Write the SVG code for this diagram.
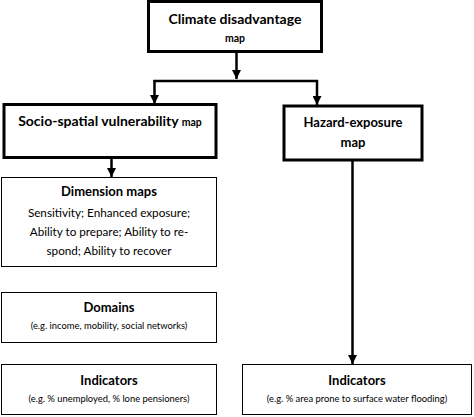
<svg xmlns="http://www.w3.org/2000/svg" width="474" height="417" viewBox="0 0 474 417">
<style>
.thick{fill:#fff;stroke:#000;stroke-width:3}
.thin{fill:#fff;stroke:#000;stroke-width:1}
text{font-family:Lato,"Liberation Sans",sans-serif;fill:#000;text-anchor:middle}
.h{font-weight:bold;font-size:14px}
.hs{font-weight:bold;font-size:10.5px}
.b{font-size:11.7px}
.s{font-size:9.4px}
.conn{fill:none;stroke:#000;stroke-width:2.5}
</style>
<defs>
<marker id="ah" markerUnits="userSpaceOnUse" markerWidth="9" markerHeight="9" viewBox="0 0 9 9" refX="9" refY="4.5" orient="auto">
<path d="M0,0 L9,4.5 L0,9 z" fill="#000"/>
</marker>
</defs>
<rect width="474" height="417" fill="#fff"/>
<g id="connectors">
<path class="conn" d="M236.5,52 V79" marker-end="url(#ah)"/>
<path class="conn" d="M153.5,81 H318"/>
<path class="conn" d="M154.5,80 V104" marker-end="url(#ah)"/>
<path class="conn" d="M317,80 V105" marker-end="url(#ah)"/>
<path class="conn" d="M111.5,158 V177" marker-end="url(#ah)"/>
<path class="conn" d="M352.5,160 V364" marker-end="url(#ah)"/>
</g>
<g id="climate">
<rect class="thick" x="148.5" y="1.5" width="173" height="50"/>
<text class="h" x="235" y="24">Climate disadvantage</text>
<text class="hs" x="235" y="42">map</text>
</g>
<g id="socio">
<rect class="thick" x="4" y="104.5" width="212" height="53"/>
<text class="h" x="110" y="126">Socio-spatial vulnerability <tspan class="hs">map</tspan></text>
</g>
<g id="hazard">
<rect class="thick" x="284" y="106" width="138" height="54"/>
<text class="h" x="353" y="127" style="font-size:13px">Hazard-exposure</text>
<text class="h" x="353" y="147" style="font-size:13px">map</text>
</g>
<g id="dimension">
<rect class="thin" x="1.5" y="177.5" width="215" height="89"/>
<text class="h" x="109" y="196" style="font-size:13px">Dimension maps</text>
<text class="b" x="109" y="217">Sensitivity; Enhanced exposure;</text>
<text class="b" x="109" y="236">Ability to prepare; Ability to re-</text>
<text class="b" x="109" y="255">spond; Ability to recover</text>
</g>
<g id="domains">
<rect class="thin" x="1.5" y="292.5" width="215" height="50"/>
<text class="h" x="109" y="312" style="font-size:13px">Domains</text>
<text class="s" x="109" y="329">(e.g. income, mobility, social networks)</text>
</g>
<g id="indicators-left">
<rect class="thin" x="1.5" y="364.5" width="215" height="50"/>
<text class="h" x="109" y="385" style="font-size:13px">Indicators</text>
<text class="s" x="109" y="402">(e.g. % unemployed, % lone pensioners)</text>
</g>
<g id="indicators-right">
<rect class="thin" x="242.5" y="364.5" width="229" height="50"/>
<text class="h" x="357" y="385" style="font-size:13px">Indicators</text>
<text class="s" x="357" y="402">(e.g. % area prone to surface water flooding)</text>
</g>
</svg>
